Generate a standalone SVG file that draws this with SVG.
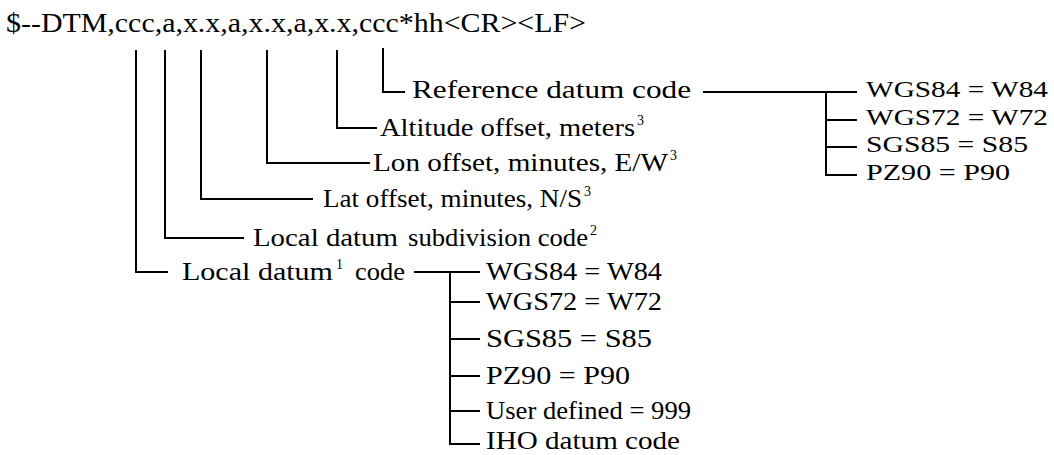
<svg xmlns="http://www.w3.org/2000/svg" width="1054" height="455" viewBox="0 0 1054 455">
<style>
text{font-family:"Liberation Serif","Times New Roman",serif;fill:#000;}
.t{font-size:27px;}
.l{font-size:26px;}
.r{font-size:23px;}
.s{font-size:14px;}
.c{fill:none;stroke:#000;stroke-width:2;}
</style>
<rect width="1054" height="455" fill="#fff"/>
<g id="title"><text class="t" x="6" y="32" textLength="580" lengthAdjust="spacingAndGlyphs">$--DTM,ccc,a,x.x,a,x.x,a,x.x,ccc*hh&lt;CR&gt;&lt;LF&gt;</text></g>
<g id="connectors">
<path class="c" d="M136,50 V272 H168"/>
<path class="c" d="M165,50 V238 H244"/>
<path class="c" d="M201,50 V199 H313"/>
<path class="c" d="M267,50 V163 H370"/>
<path class="c" d="M337,50 V128 H377"/>
<path class="c" d="M383,48 V92 H405"/>
<path class="c" d="M703,92 H857 M826,92 V175 H857 M826,120 H857 M826,147 H857"/>
<path class="c" d="M414,272 H480 M450,272 V444 H480 M450,302 H480 M450,339 H480 M450,376 H480 M450,411 H480"/>
</g>
<g id="ref"><text class="l" x="412" y="98" textLength="279" lengthAdjust="spacingAndGlyphs">Reference datum code</text></g>
<g id="ref-list">
<text class="r" x="866" y="97" textLength="182" lengthAdjust="spacingAndGlyphs">WGS84 = W84</text>
<text class="r" x="866" y="125" textLength="182" lengthAdjust="spacingAndGlyphs">WGS72 = W72</text>
<text class="r" x="866" y="152" textLength="162" lengthAdjust="spacingAndGlyphs">SGS85 = S85</text>
<text class="r" x="866" y="180" textLength="144" lengthAdjust="spacingAndGlyphs">PZ90 = P90</text>
</g>
<g id="alt"><text class="l" x="380" y="136" textLength="255" lengthAdjust="spacingAndGlyphs">Altitude offset, meters</text><text class="s" x="637" y="125">3</text></g>
<g id="lon"><text class="l" x="373" y="171" textLength="295" lengthAdjust="spacingAndGlyphs">Lon offset, minutes, E/W</text><text class="s" x="670" y="160">3</text></g>
<g id="lat"><text class="l" x="323" y="207" textLength="259" lengthAdjust="spacingAndGlyphs">Lat offset, minutes, N/S</text><text class="s" x="584" y="196">3</text></g>
<g id="subdiv"><text class="l" x="253" y="246" textLength="145" lengthAdjust="spacingAndGlyphs">Local datum</text><text class="l" x="408" y="246" textLength="180" lengthAdjust="spacingAndGlyphs">subdivision code</text><text class="s" x="590" y="235">2</text></g>
<g id="local"><text class="l" x="182" y="280" textLength="151" lengthAdjust="spacingAndGlyphs">Local datum</text><text class="s" x="336" y="269">1</text><text class="l" x="355" y="280" textLength="50" lengthAdjust="spacingAndGlyphs">code</text></g>
<g id="local-list">
<text class="l" x="486" y="280" textLength="176" lengthAdjust="spacingAndGlyphs">WGS84 = W84</text>
<text class="l" x="486" y="310" textLength="176" lengthAdjust="spacingAndGlyphs">WGS72 = W72</text>
<text class="l" x="486" y="347" textLength="166" lengthAdjust="spacingAndGlyphs">SGS85 = S85</text>
<text class="l" x="486" y="384" textLength="144" lengthAdjust="spacingAndGlyphs">PZ90 = P90</text>
<text class="l" x="486" y="419" textLength="205" lengthAdjust="spacingAndGlyphs">User defined = 999</text>
<text class="l" x="486" y="449" textLength="194" lengthAdjust="spacingAndGlyphs">IHO datum code</text>
</g>
</svg>
